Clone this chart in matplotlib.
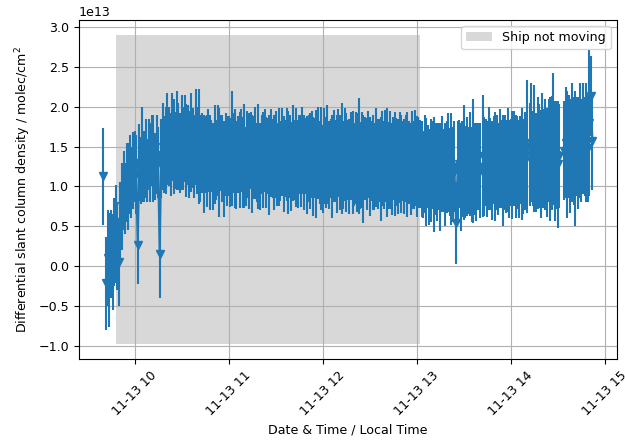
import numpy as np
import pandas as pd
import matplotlib
matplotlib.use("Agg")
import matplotlib.pyplot as plt

nan = np.nan

# dSCD per minute from 09:40 (units of 1e13 molec/cm^2), nan = no retrieval
dscd = [
    1.13, nan,
    -0.22, 0.10, -0.05, 0.15, 0.05, 0.30, 0.40, 0.25, 0.05, 0.55,
    0.75, 0.95, 0.85, 1.05, 1.00, 1.15, 1.05, 1.20,
    1.25, 1.15, 0.27, 1.30, 1.20, 1.40, 1.25, 1.35, 1.20, 1.40,
    1.30, 1.45, 1.35, 1.25, 1.40, 1.30, 0.15, 1.35, 1.50, 1.40,
    1.45, 1.60, 1.50, 1.40, 1.62, 1.50, 1.45, 1.58, 1.50, 1.42,
    1.55, 1.48, 1.60, 1.45, 1.52, 1.40, 1.55, 1.48, 1.38, 1.62,
    1.45, 1.50,
    1.35, 1.42, 1.28, 1.40, 1.32, 1.45, 1.30, 1.38, 1.25, 1.40,
    1.33, 1.45, 1.30, 1.42, 1.35, 1.22, 1.40, 1.32, 1.38, 1.30,
    1.48, 1.42, 1.35, 1.27, 1.40, 1.33, 1.45, 1.30, 1.38, 1.25,
    1.40, 1.32, 1.45, 1.28, 1.36, 1.42, 1.30, 1.38, 1.25, 1.40,
    1.33, 1.45, 1.30, 1.38, 1.27, 1.42, 1.35, 1.30, 1.40, 1.28,
    1.37, 1.32, 1.43, 1.28, 1.35, 1.40, 1.30, 1.38, 1.25, 1.42,
    1.33, 1.36, 1.28, 1.40, 1.32, 1.45, 1.30, 1.38, 1.27, 1.35,
    1.32, 1.40, 1.25, 1.36, 1.28, 1.42, 1.30, 1.35, 1.22, 1.38,
    1.30, 1.40, 1.27, 1.35, 1.25, 1.38, 1.32, 1.28, 1.42, 1.30,
    1.35, 1.27, 1.40, 1.30, 1.33, 1.25, 1.38, 1.30, 1.28, 1.36,
    1.30, 1.38, 1.26, 1.33, 1.22, 1.35, 1.28, 1.40, 1.25, 1.32,
    1.30, 1.25, 1.36, 1.28, 1.33, 1.22, 1.35, 1.27, 1.38, 1.30,
    1.26, 1.33, 1.22, 1.35, 1.28, 1.31, 1.25, 1.36, 1.28, 1.32,
    1.25, 1.35, 1.28, 1.30, 1.22, 1.33, 1.27, 1.36, 1.25, 1.30, 1.28,
    1.22, 1.15, 1.28, 1.18, 1.25, 1.12, 1.20, 1.27, 1.15, 1.22,
    1.18, 1.25, 1.12, 1.28, 1.20, 1.15, 1.24, 1.30, 1.18, 1.22,
    1.15, 1.25, 0.54, 1.20, 1.28, 1.12, 1.22, 1.30, 1.18, 1.25,
    1.20, 1.28, 1.15, 1.32, 1.22, 1.18, 1.25, 1.20,
    nan,
    1.38, 1.25, 1.30, 1.22, 1.35, 1.28, 1.20, 1.33, 1.25, 1.30,
    1.22, 1.35, 1.28, 1.20, 1.30, 1.25, 1.33, 1.22, 1.30, 1.27,
    1.35, 1.25, 1.30, 1.22, 1.33, 1.28, 1.25, 1.32, 1.50,
    nan,
    1.40, 1.55, 1.35, 1.48, 1.30, 1.42, 1.38, 1.28, 1.45, 1.35,
    1.40, 1.30, 1.45, 1.35, 1.42, 1.60, 1.32, 1.40, 1.28, 1.38,
    nan, nan,
    1.45, 1.55, 1.40, 1.50, 1.38, 1.55, 1.45, 1.35, 1.50, 1.42,
    1.58, 1.45, 1.60, 1.50, 1.55, 1.48,
    1.80, 2.14, 1.57,
]

dscd_err = [
    0.61, 0.0,
    0.58, 0.60, 0.72, 0.55, 0.60, 0.55, 0.62, 0.55, 0.55, 0.50,
    0.55, 0.50, 0.45, 0.50, 0.55, 0.50, 0.45, 0.48,
    0.45, 0.50, 0.50, 0.48, 0.42, 0.60, 0.45, 0.50, 0.40, 0.45,
    0.50, 0.45, 0.55, 0.42, 0.50, 0.45, 0.55, 0.50, 0.55, 0.48,
    0.55, 0.58, 0.50, 0.52, 0.55, 0.60, 0.48, 0.62, 0.55, 0.50,
    0.60, 0.52, 0.55, 0.58, 0.50, 0.55, 0.62, 0.50, 0.52, 0.60,
    0.55, 0.72,
    0.55, 0.50, 0.62, 0.48, 0.58, 0.52, 0.60, 0.45, 0.55, 0.62,
    0.50, 0.57, 0.68, 0.48, 0.55, 0.60, 0.52, 0.56, 0.50, 0.56,
    0.72, 0.50, 0.62, 0.55, 0.48, 0.60, 0.52, 0.57, 0.65, 0.50,
    0.55, 0.60, 0.48, 0.62, 0.52, 0.58, 0.50, 0.66, 0.55, 0.50,
    0.60, 0.52, 0.57, 0.48, 0.63, 0.55, 0.50, 0.60, 0.55, 0.52,
    0.62, 0.50, 0.55, 0.60, 0.48, 0.58, 0.65, 0.52, 0.56, 0.60,
    0.50, 0.62, 0.55, 0.50, 0.58, 0.55, 0.60, 0.48, 0.62, 0.55,
    0.60, 0.55, 0.62, 0.50, 0.68, 0.58, 0.52, 0.65, 0.55, 0.60,
    0.57, 0.62, 0.55, 0.50, 0.65, 0.58, 0.52, 0.62, 0.55, 0.60,
    0.70, 0.55, 0.58, 0.62, 0.50, 0.60, 0.55, 0.65, 0.52, 0.58,
    0.62, 0.73, 0.55, 0.60, 0.68, 0.52, 0.58, 0.55, 0.62, 0.50,
    0.60, 0.55, 0.62, 0.57, 0.52, 0.65, 0.60, 0.55, 0.58, 0.68,
    0.55, 0.62, 0.58, 0.52, 0.65, 0.55, 0.60, 0.57, 0.62, 0.50,
    0.60, 0.55, 0.66, 0.52, 0.58, 0.62, 0.55, 0.60, 0.63, 0.57, 0.55,
    0.60, 0.55, 0.62, 0.68, 0.52, 0.60, 0.65, 0.55, 0.72, 0.58,
    0.62, 0.55, 0.68, 0.60, 0.52, 0.65, 0.58, 0.62, 0.55, 0.70,
    0.60, 0.57, 0.51, 0.62, 0.55, 0.68, 0.60, 0.72, 0.58, 0.62,
    0.55, 0.65, 0.60, 0.78, 0.58, 0.62, 0.55, 0.60,
    0.0,
    0.77, 0.62, 0.55, 0.60, 0.65, 0.58, 0.62, 0.55, 0.68, 0.60,
    0.58, 0.62, 0.55, 0.70, 0.60, 0.58, 0.65, 0.62, 0.55, 0.68,
    0.60, 0.65, 0.58, 0.62, 0.55, 0.70, 0.60, 0.62, 0.84,
    0.0,
    0.65, 0.75, 0.60, 0.80, 0.62, 0.70, 0.65, 0.68, 0.72, 0.62,
    0.70, 0.68, 0.65, 0.78, 0.72, 0.83, 0.75, 0.68, 0.80, 0.65,
    0.0, 0.0,
    0.62, 0.70, 0.80, 0.65, 0.72, 0.75, 0.68, 0.85, 0.62, 0.70,
    0.72, 0.65, 0.70, 0.62, 0.75, 0.68,
    0.92, 0.50, 0.62,
]

# period the ship was stationary, and the vertical extent of the shading
ship_stop = ["2024-11-13 09:48", "2024-11-13 13:02"]
shade_low, shade_high = -0.975e13, 2.9e13

plt.rcParams["font.size"] = 9.1

times = pd.date_range("2024-11-13 09:40", periods=len(dscd), freq="min")
y = np.array(dscd) * 1e13
yerr = np.array(dscd_err) * 1e13

fig = plt.figure(figsize=(6.25, 4.41), dpi=100)
ax = fig.add_subplot(111)
fig.subplots_adjust(left=0.126, right=0.987, top=0.955, bottom=0.186)

ax.fill_between(pd.to_datetime(ship_stop), shade_low, shade_high,
                color="grey", alpha=0.3, linewidth=0, label="Ship not moving")
ax.errorbar(times, y, yerr=yerr, marker="v", color="C0")

ax.set_xlabel("Date & Time / Local Time")
ax.set_ylabel("Differential slant column density / molec/cm$^2$")
ax.grid(True)
ax.legend(loc="upper right")
plt.setp(ax.get_xticklabels(), rotation=45)

fig.savefig("out.png", dpi=100)
